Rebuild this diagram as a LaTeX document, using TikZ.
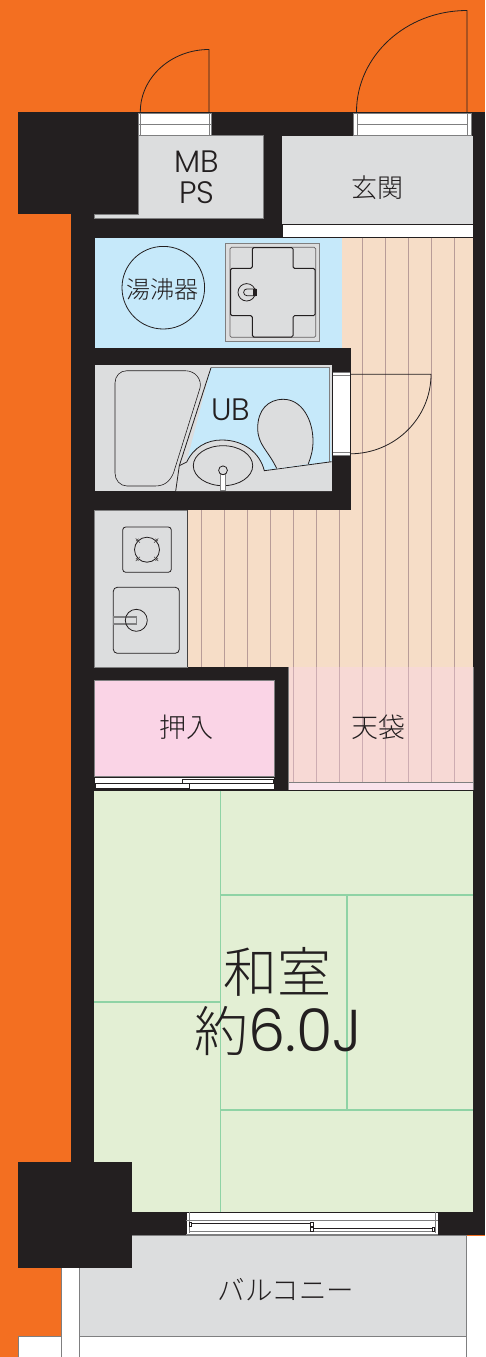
\documentclass[tikz,border=0pt]{standalone}
\usepackage{fontspec}
\usetikzlibrary{calc}
\setmainfont{Poppins}[UprightFont=* Light]
\newfontfamily\cjk{Noto Sans CJK JP}[UprightFont=* Light]
\definecolor{org}{HTML}{F36F21}
\definecolor{ink}{HTML}{231F20}
\definecolor{gry}{HTML}{DCDDDE}
\definecolor{blu}{HTML}{C6E9FA}
\definecolor{pch}{HTML}{F6DDC7}
\definecolor{pnk}{HTML}{FAD4E6}
\definecolor{lpk}{HTML}{F7D9D5}
\definecolor{pal}{HTML}{F9E3EC}
\definecolor{grn}{HTML}{E3EFD4}
\definecolor{tat}{HTML}{8FD3A5}
\definecolor{edge}{HTML}{7F7F80}
\definecolor{plk}{HTML}{B89C98}
\definecolor{plp}{HTML}{CDACB2}
\tikzset{
  room/.style={draw=edge,line width=.6pt},
  ln/.style={draw=ink,line width=.8pt},
  thinln/.style={draw=ink,line width=.6pt},
  greyln/.style={draw=edge,line width=.9pt},
  tatami/.style={draw=tat,line width=1.3pt},
  lab/.style={text=ink,inner sep=0pt,align=center,font=\cjk},
}
\begin{document}
\begin{tikzpicture}[x=1pt,y=-1pt]
\useasboundingbox (0,0) rectangle (485,1357);
% ground
\fill[org] (0,0) rectangle (485,1357);
% white lots at the bottom
\fill[white] (61,1236) rectangle (485,1357);
\draw[room] (61,1357) -- (61,1268);
\fill[white] (18.7,1336) rectangle (61,1357);
\draw[room] (18.7,1357) -- (18.7,1336) -- (61,1336);
\draw[room,fill=gry] (79.6,1235) rectangle (466,1336);
\draw[room] (79.6,1336) -- (79.6,1357) (466,1336) -- (466,1357);
% walls
\fill[ink] (18,112) rectangle (485,214);
\fill[ink] (71.3,214) rectangle (485,1235);
\fill[ink] (18.3,1162.3) rectangle (132,1268);
% MB PS
\draw[room,fill=gry] (138,135.5) -- (263,135.5) -- (263,218.7) -- (94.5,218.7) -- (94.5,214) -- (138,214) -- cycle;
% entrance
\fill[gry] (282,135.5) rectangle (473.3,224);
\draw[ink,line width=.8pt,fill=white] (282,224.5) rectangle (473.3,237);
% floor
\fill[pch] (342,237.5) rectangle (473.3,667);
\fill[pch] (187.5,510) rectangle (473.3,667);
\fill[ink] (332,347.5) rectangle (351,510);
\fill[ink] (71.3,491) rectangle (351,510);
\foreach \k in {0,...,11} {
  \pgfmathsetmacro{\xx}{201.3+23.03*\k}
  \draw[plk,line width=.7pt] (\xx,510) -- (\xx,667);
}
\foreach \k in {7,...,11} {
  \pgfmathsetmacro{\xx}{201.3+23.03*\k}
  \draw[plk,line width=.7pt] (\xx,237.5) -- (\xx,510);
}
% water heater room
\fill[blu] (94.5,237.5) rectangle (342,347.5);
\fill[ink] (94.5,347.5) rectangle (351,365);
\draw[ln] (163.3,287.7) circle[radius=41.3];
\node[lab,font=\cjk\fontsize{24}{24}\selectfont] (heater) at (162.5,289) {湯沸器};
% washer pan
\draw[draw=edge,line width=.9pt,fill=gry] (225.7,243.3) rectangle (319,341);
\draw[draw=ink!70,line width=.7pt,rounded corners=1.5pt] (230,247.3) rectangle (315.7,337.3);
\draw[draw=ink,line width=1pt,rounded corners=1.5pt] (230.5,268.3) -- (252.3,268.3) -- (252.3,247.5) -- (293,247.5) -- (293,268.3) -- (315,268.3) -- (315,315.7) -- (293,315.7) -- (293,337) -- (252.3,337) -- (252.3,315.7) -- (230.5,315.7) -- cycle;
\draw[ln] (246.7,292.3) circle[radius=8.7];
\draw[ln] (256,288.9) -- (247,288.9) arc[start angle=270,end angle=90,radius=3.4] -- (256,295.7);
\fill[ink] (253,288.9) rectangle (256.5,295.7);
% unit bath
\fill[gry] (94.5,365) rectangle (332,491);
\fill[blu] (211,367.7) -- (329,367.7) -- (331.7,461.7) -- (264.3,470.7) -- (186.7,461.7) -- cycle;
\draw[draw=edge,line width=.8pt] (211,367.7) -- (329,367.7) -- (329,461.7);
\fill[gry] (186.7,462) .. controls (194,447) and (207,440) .. (221.7,440) .. controls (244,440) and (260,453) .. (264.3,470.7) -- (331.7,461.7) -- (331.7,491) -- (175.7,491) -- (179.3,465.7) -- cycle;
\draw[ln] (211,367.7) -- (179.3,465.7) -- (175.7,491);
\draw[ln] (179.3,465.7) -- (186.7,462) .. controls (194,447) and (207,440) .. (221.7,440) .. controls (244,440) and (260,453) .. (264.3,470.7) -- (331.7,461.7);
% tub
\draw[thinln,draw=ink,fill=gry] (127,370.7) -- (185,370.7) .. controls (196,370.7) and (202,380) .. (200,388) -- (173.5,473) .. controls (170,481) and (165,486) .. (155,486) -- (127,486) .. controls (120,486) and (115,480) .. (115,473) -- (115,383) .. controls (115,376) and (120,370.7) .. (127,370.7) -- cycle;
% sink
\draw[ln] (223,465.7) ellipse[x radius=29.7,y radius=20];
\draw[greyln,fill=white] (220.5,474) rectangle (225.7,490.7);
\draw[ln,fill=gry] (223,470.3) circle[radius=4.4];
% toilet
\draw[ln,fill=gry] (276.7,468.5) .. controls (268,450) and (257.7,445) .. (257.7,428) .. controls (257.7,410) and (268,399.3) .. (283.3,399.3) .. controls (302,399.3) and (313,420) .. (313,441) .. controls (313,450) and (311,457) .. (308.3,463.8);
% bath door
\fill[white] (332.5,372) rectangle (350,455.7);
\draw[draw=edge,line width=.8pt] (332.5,375) -- (350,375) (332.5,452.7) -- (350,452.7);
\draw[draw=edge,line width=.5pt] (332.5,372) -- (350,372) (332.5,455.7) -- (350,455.7);
\coordinate (bathhinge) at (431,374.3);
\draw[ln] (350,374.3) -- (bathhinge) arc[start angle=0,end angle=90,x radius=81,y radius=79.5];
\node[lab,font=\fontsize{31}{31}\selectfont] (ub) at (231,410) {UB};
% kitchen
\draw[draw=edge,line width=.5pt,fill=gry] (94,510) rectangle (187.5,667);
\draw[draw=ink!85,line width=.8pt] (187.5,510) -- (187.5,667);
\draw[ln,rounded corners=3pt] (122.7,527) rectangle (171.3,572.3);
\draw[ln] (147,549.7) circle[radius=12.5];
\foreach \a in {45,135,225,315} {
  \draw[draw=ink!85,line width=.5pt] ($(147,549.7)+(\a:10)$) -- ($(147,549.7)+(\a:16)$);
  \draw[draw=ink!85,line width=.5pt] ($(147,549.7)+(\a:13.8)+(\a+90:1.8)$) -- ($(147,549.7)+(\a:13.8)+(\a-90:1.8)$);
}
\draw[ln,rounded corners=4pt] (113.3,587.3) rectangle (179.3,653.3);
\draw[greyln,line width=1.1pt] (113.3,617) rectangle (136.3,624);
\draw[ln] (136.3,620.3) circle[radius=11];
% closet
\draw[room,fill=pnk] (94.3,680.7) rectangle (274.7,776.7);
\draw[ln,fill=white] (94.3,777) rectangle (274.7,789.5);
\draw[thinln] (182.3,779) rectangle (273.3,783.7);
\draw[thinln,fill=white] (95.3,783.7) rectangle (189.3,788);
% upper cupboard
\fill[lpk] (288.5,667) rectangle (473.3,783);
\fill[pal] (288.5,783) rectangle (473.3,789.5);
\foreach \k in {4,...,11} {
  \pgfmathsetmacro{\xx}{201.3+23.03*\k}
  \draw[plp,line width=.6pt] (\xx,667) -- (\xx,782.5);
}
\draw[draw=edge,line width=.7pt] (288.5,782.7) -- (473.3,782.7);
\draw[draw=edge,line width=.5pt] (288.5,667) -- (288.5,789.5) (473.3,667) -- (473.3,789.5);
% tatami room
\fill[grn] (94.3,790.5) rectangle (473.3,1212);
\fill[ink] (94.3,1162.3) rectangle (132,1212);
\draw[tatami] (220.7,790.5) -- (220.7,1212);
\draw[tatami] (220.7,895) -- (473.3,895);
\draw[tatami] (220.7,1110) -- (473.3,1110);
\draw[tatami] (347,895) -- (347,1110);
\draw[tatami] (94.3,1002) -- (220.7,1002);
% balcony window
\fill[white] (186,1212) rectangle (438,1235);
\draw[thinln] (186,1212.5) -- (438,1212.5);
\draw[thinln] (186,1212) -- (186,1235) (438,1212) -- (438,1235);
\draw[draw=edge,line width=.5pt] (189.3,1212) -- (189.3,1232.5) (435,1212) -- (435,1232.5);
\draw[draw=edge,line width=.7pt] (186,1220.7) -- (438,1220.7);
\draw[draw=ink,line width=1.2pt] (190,1223.3) -- (311,1223.3);
\draw[draw=ink,line width=1.2pt] (312,1228.7) -- (433,1228.7);
\draw[draw=edge,line width=.6pt] (189.3,1231) -- (435,1231);
\draw[draw=edge,line width=.7pt] (186,1234) -- (438,1234);
\draw[draw=ink,line width=.5pt,fill=white] (189,1222) rectangle (191.5,1226);
\draw[draw=ink,line width=.5pt,fill=white] (310.5,1222) rectangle (313,1226);
\draw[draw=ink,line width=.5pt,fill=white] (310.5,1227) rectangle (313,1231);
\draw[draw=ink,line width=.5pt,fill=white] (432,1227) rectangle (434.5,1231);
% entrance doors
\fill[white] (138.5,113) rectangle (211,135);
\draw[greyln] (138.5,113) rectangle (211,135);
\draw[greyln] (140.5,113) -- (140.5,135) (209,113) -- (209,135) (138.5,124) -- (211,124);
\fill[white] (353,113) rectangle (471,135);
\draw[greyln] (353,113) rectangle (471,135);
\draw[greyln] (357,113) -- (357,135) (467,113) -- (467,135) (357,124) -- (467,124);
\coordinate (mbhinge) at (209,112);
\coordinate (endoor) at (467,112);
\draw[ln] (mbhinge) -- (209,49.5) arc[start angle=270,end angle=180,x radius=68.7,y radius=62.5];
\draw[ln] (endoor) -- (467,10.5) arc[start angle=270,end angle=180,x radius=110.5,y radius=101.5];
% labels
\node[lab,font=\fontsize{31}{31}\selectfont] (mb) at (197,162) {MB};
\node[lab,font=\fontsize{31}{31}\selectfont] (ps) at (197,193) {PS};
\node[lab,font=\cjk\fontsize{26}{26}\selectfont] (genkan) at (377.5,187.5) {玄関};
\node[lab,font=\cjk\fontsize{27}{27}\selectfont] (oshiire) at (186,727) {押入};
\node[lab,font=\cjk\fontsize{27}{27}\selectfont] (tenbukuro) at (378,727) {天袋};
\node[lab,font=\cjk\fontsize{54}{54}\selectfont] (washitsu) at (277,972) {和室};
\node[lab,font=\cjk\fontsize{54}{54}\selectfont] (jo) at (278.5,1031) {約{\rmfamily\fontsize{59}{59}\selectfont 6.0J}};
\node[lab,font=\cjk\fontsize{27.5}{27.5}\selectfont] (balcony) at (286,1290) {バルコニー};
\end{tikzpicture}
\end{document}
